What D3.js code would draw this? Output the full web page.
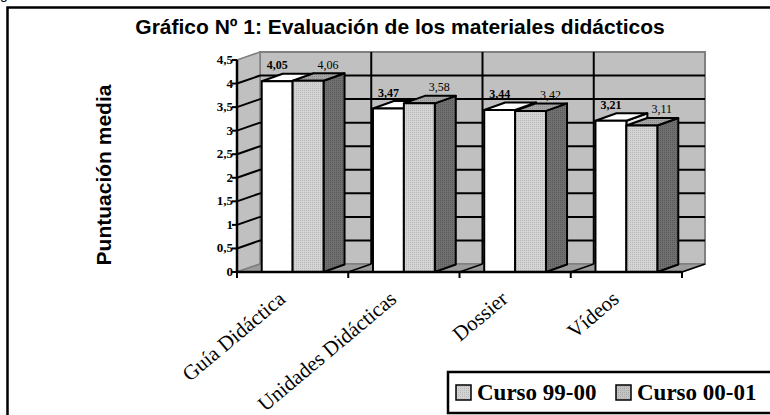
<!DOCTYPE html>
<html>
<head>
<meta charset="utf-8">
<script src="https://d3js.org/d3.v7.min.js"></script>
<style>
  body { margin: 0; background: #fff; }
  svg { display: block; }
</style>
</head>
<body>
<script>
// chart data
var categories = ["Guía Didáctica", "Unidades Didácticas", "Dossier", "Vídeos"];
var seriesNames = ["Curso 99-00", "Curso 00-01"];
var curso9900 = [4.05, 3.47, 3.44, 3.21];
var curso0001 = [4.06, 3.58, 3.42, 3.11];
var yTicks = [0, 0.5, 1, 1.5, 2, 2.5, 3, 3.5, 4, 4.5];
var yTickLabels = ["0", "0,5", "1", "1,5", "2", "2,5", "3", "3,5", "4", "4,5"];

var W = 770, H = 415;
var DX = 23, DY = -8;      // depth of the walls
var BDX = 21, BDY = -7.5;  // depth of the bars

var es = d3.formatLocale({decimal: ",", thousands: ".", grouping: [3], currency: ["", "€"]});
var fmt = es.format(".2f");

var svg = d3.select("body").append("svg")
  .attr("width", W).attr("height", H);

// fill patterns
var defs = svg.append("defs");
function dots(id, bg, fg) {
  var p = defs.append("pattern").attr("id", id)
    .attr("width", 2).attr("height", 2).attr("patternUnits", "userSpaceOnUse");
  p.append("rect").attr("width", 2).attr("height", 2).attr("fill", bg);
  p.append("rect").attr("width", 1).attr("height", 1).attr("fill", fg);
}
dots("light", "#d4d4d4", "#b8b8b8");
dots("mid", "#a6a6a6", "#8c8c8c");
dots("dark", "#707070", "#585858");
dots("swatch2", "#c4c4c4", "#a8a8a8");

// stray glyph from the text above the chart
svg.append("text").attr("x", 0).attr("y", -1)
  .attr("font-family", "Liberation Sans, Arial").attr("font-size", 14).text("g");

// outer frame
svg.append("rect").attr("x", 7.5).attr("y", 7.5).attr("width", 800).attr("height", 500)
  .attr("fill", "none").attr("stroke", "#000").attr("stroke-width", 2.5);

svg.append("text")
  .attr("x", 400).attr("y", 34)
  .attr("text-anchor", "middle")
  .attr("font-family", "Liberation Sans, Arial").attr("font-weight", "bold")
  .attr("font-size", 21)
  .text("Gráfico Nº 1: Evaluación de los materiales didácticos");

svg.append("text")
  .attr("transform", "translate(111,175) rotate(-90)")
  .attr("text-anchor", "middle")
  .attr("font-family", "Liberation Sans, Arial").attr("font-weight", "bold")
  .attr("font-size", 21)
  .text("Puntuación media");

var x = d3.scaleBand().domain(categories).range([237, 682]);
var xs = d3.scaleBand().domain(seriesNames).range([0, x.bandwidth()]).paddingOuter(0.8);
var y = d3.scaleLinear().domain([0, 4.5]).range([272, 60]);

var x0 = x.range()[0], x1 = x.range()[1];
var yTop = y(4.5), yBot = y(0);
var line = d3.line();

// walls and floor
var walls = svg.append("g");
walls.append("path")
  .attr("d", line([[x0 + DX, yTop + DY], [x1 + DX, yTop + DY], [x1 + DX, yBot + DY], [x0 + DX, yBot + DY]]) + "Z")
  .attr("fill", "#c0c0c0").attr("stroke", "#808080").attr("stroke-width", 2);
walls.append("path")
  .attr("d", line([[x0, yTop], [x0 + DX, yTop + DY], [x0 + DX, yBot + DY], [x0, yBot]]) + "Z")
  .attr("fill", "#c0c0c0").attr("stroke", "#808080").attr("stroke-width", 1.5);
walls.append("path")
  .attr("d", line([[x0, yBot], [x1, yBot], [x1 + DX, yBot + DY], [x0 + DX, yBot + DY]]) + "Z")
  .attr("fill", "#9c9c9c").attr("stroke", "#808080").attr("stroke-width", 1.5);

// grid lines on back and side walls
var gridTicks = yTicks.filter(function(t) { return t > 0 && t < 4.5; });
walls.selectAll(".hgrid").data(gridTicks).enter().append("line")
  .attr("x1", x0 + DX).attr("x2", x1 + DX)
  .attr("y1", function(d) { return y(d) + DY; }).attr("y2", function(d) { return y(d) + DY; })
  .attr("stroke", "#000").attr("stroke-width", 2);
walls.selectAll(".sgrid").data(gridTicks).enter().append("line")
  .attr("x1", x0).attr("x2", x0 + DX)
  .attr("y1", function(d) { return y(d); }).attr("y2", function(d) { return y(d) + DY; })
  .attr("stroke", "#000").attr("stroke-width", 2);

// vertical separators on back wall and diagonals on floor
var bounds = categories.slice(1).map(function(c) { return x(c); });
walls.selectAll(".vgrid").data(bounds).enter().append("line")
  .attr("x1", function(d) { return d + DX; }).attr("x2", function(d) { return d + DX; })
  .attr("y1", yTop + DY).attr("y2", yBot + DY)
  .attr("stroke", "#000").attr("stroke-width", 2);
walls.selectAll(".fgrid").data(bounds.concat([x1])).enter().append("line")
  .attr("x1", function(d) { return d; }).attr("x2", function(d) { return d + DX; })
  .attr("y1", yBot).attr("y2", yBot + DY)
  .attr("stroke", "#000").attr("stroke-width", 1.5);

// bars
var values = [curso9900, curso0001];
var faceFill = [
  {front: "#fff", top: "#fff", side: "#e8e8e8"},
  {front: "url(#light)", top: "url(#mid)", side: "url(#dark)"}
];
var bars = svg.append("g").attr("stroke", "#000").attr("stroke-width", 2).attr("stroke-linejoin", "round");
categories.forEach(function(cat, i) {
  seriesNames.forEach(function(s, k) {
    var v = values[k][i];
    var bx = x(cat) + xs(s), bw = xs.bandwidth();
    var yt = y(v), yb = y(0);
    var g = bars.append("g");
    g.append("path")
      .attr("d", line([[bx + bw, yt], [bx + bw + BDX, yt + BDY], [bx + bw + BDX, yb + BDY], [bx + bw, yb]]) + "Z")
      .attr("fill", faceFill[k].side);
    g.append("path")
      .attr("d", line([[bx, yt], [bx + bw, yt], [bx + bw + BDX, yt + BDY], [bx + BDX, yt + BDY]]) + "Z")
      .attr("fill", faceFill[k].top);
    g.append("rect")
      .attr("x", bx).attr("y", yt).attr("width", bw).attr("height", yb - yt)
      .attr("fill", faceFill[k].front);
  });
});

// value labels
categories.forEach(function(cat, i) {
  seriesNames.forEach(function(s, k) {
    var v = values[k][i];
    var cx = x(cat) + xs(s) + xs.bandwidth() / 2 + (k === 0 ? 0 : 20);
    svg.append("text")
      .attr("x", cx).attr("y", y(v) - 12)
      .attr("text-anchor", "middle")
      .attr("font-family", "Liberation Serif, Times New Roman").attr("font-size", 12)
      .attr("font-weight", k === 0 ? "bold" : "normal")
      .text(fmt(v));
  });
});

// axes
svg.append("line").attr("x1", x0).attr("x2", x0).attr("y1", yTop).attr("y2", yBot)
  .attr("stroke", "#000").attr("stroke-width", 2.5);
svg.append("line").attr("x1", x0 - 1).attr("x2", x1).attr("y1", yBot).attr("y2", yBot)
  .attr("stroke", "#000").attr("stroke-width", 2.5);

svg.selectAll(".ytick").data(yTicks).enter().append("line")
  .attr("x1", x0 - 5).attr("x2", x0)
  .attr("y1", function(d) { return y(d); }).attr("y2", function(d) { return y(d); })
  .attr("stroke", "#000").attr("stroke-width", 2);
svg.selectAll(".ylab").data(yTicks).enter().append("text")
  .attr("x", x0 - 4).attr("y", function(d) { return y(d) + 4; })
  .attr("text-anchor", "end")
  .attr("font-family", "Liberation Serif, Times New Roman").attr("font-weight", "bold")
  .attr("font-size", 13)
  .text(function(d, i) { return yTickLabels[i]; });

var xTickPos = categories.map(function(c) { return x(c); }).concat([x1]);
svg.selectAll(".xtick").data(xTickPos).enter().append("line")
  .attr("x1", function(d) { return d; }).attr("x2", function(d) { return d; })
  .attr("y1", yBot).attr("y2", yBot + 6)
  .attr("stroke", "#000").attr("stroke-width", 2);

svg.selectAll(".xlab").data(categories).enter().append("text")
  .attr("transform", function(d) {
    return "translate(" + (x(d) + x.bandwidth() / 2 - 6) + "," + (yBot + 29) + ") rotate(-40)";
  })
  .attr("text-anchor", "end")
  .attr("font-family", "Liberation Serif, Times New Roman").attr("font-size", 21)
  .text(function(d) { return d; });

// legend
var lg = svg.append("g");
lg.append("rect").attr("x", 448).attr("y", 372).attr("width", 340).attr("height", 41)
  .attr("fill", "#fff").attr("stroke", "#000").attr("stroke-width", 2.5);
var legX = [456, 616];
var swatchFill = ["url(#light)", "url(#swatch2)"];
seriesNames.forEach(function(s, k) {
  lg.append("rect").attr("x", legX[k]).attr("y", 385).attr("width", 15).attr("height", 15)
    .attr("fill", swatchFill[k]).attr("stroke", "#000").attr("stroke-width", 1.5);
  lg.append("text").attr("x", legX[k] + 21).attr("y", 400)
    .attr("font-family", "Liberation Serif, Times New Roman").attr("font-weight", "bold")
    .attr("font-size", 23)
    .text(s);
});
</script>
</body>
</html>
